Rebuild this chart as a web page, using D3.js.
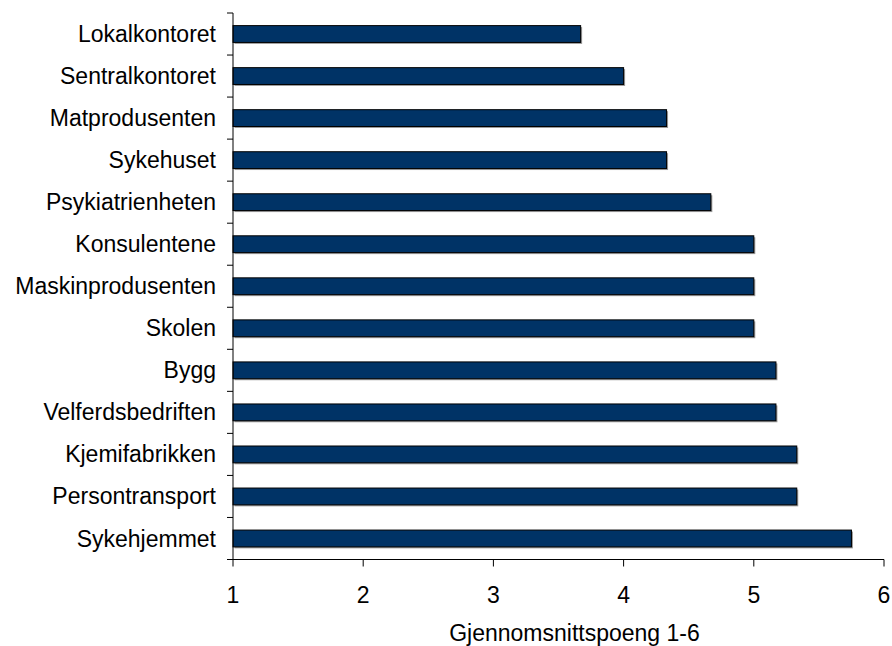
<!DOCTYPE html>
<html>
<head>
<meta charset="utf-8">
<script src="https://cdn.jsdelivr.net/npm/d3@7"></script>
<style>
  html, body { margin: 0; padding: 0; background: #fff; }
  svg { display: block; font-family: "Liberation Sans", Arial, sans-serif; }
</style>
</head>
<body>
<svg id="chart" width="892" height="646"></svg>
<script>
// Average score (1-6) per workplace
const categories = [
  "Lokalkontoret", "Sentralkontoret", "Matprodusenten", "Sykehuset",
  "Psykiatrienheten", "Konsulentene", "Maskinprodusenten", "Skolen",
  "Bygg", "Velferdsbedriften", "Kjemifabrikken", "Persontransport", "Sykehjemmet"
];
const scores = [3.67, 4.0, 4.33, 4.33, 4.67, 5.0, 5.0, 5.0, 5.17, 5.17, 5.33, 5.33, 5.75];
const xTicks = [1, 2, 3, 4, 5, 6];
const xTitle = "Gjennomsnittspoeng 1-6";

const svg = d3.select("#chart");
const plotLeft = 233, plotRight = 884, plotTop = 13, plotBottom = 559.5;
const fontSize = 23;

const x = d3.scaleLinear().domain([1, 6]).range([plotLeft, plotRight]);
const y = d3.scaleBand().domain(categories).range([plotTop, plotBottom]).paddingInner(0.6).paddingOuter(0.3);
const band = (plotBottom - plotTop) / categories.length;

// bars with a faint drop shadow
const bars = svg.append("g");
bars.selectAll("rect.shadow")
  .data(categories)
  .join("rect")
  .attr("class", "shadow")
  .attr("x", x(1) + 1.5)
  .attr("y", (d) => y(d) + 1.5)
  .attr("width", (d, i) => x(scores[i]) - x(1))
  .attr("height", y.bandwidth())
  .attr("fill", "#9a9a9a");
bars.selectAll("rect.bar")
  .data(categories)
  .join("rect")
  .attr("class", "bar")
  .attr("x", x(1))
  .attr("y", (d) => y(d))
  .attr("width", (d, i) => x(scores[i]) - x(1))
  .attr("height", y.bandwidth())
  .attr("fill", "#003366")
  .attr("stroke", "#000")
  .attr("stroke-width", 1);

// category axis: line, ticks between categories, labels
const gy = svg.append("g");
gy.append("line")
  .attr("x1", plotLeft).attr("x2", plotLeft)
  .attr("y1", plotTop).attr("y2", plotBottom)
  .attr("stroke", "#000").attr("stroke-width", 1);
gy.selectAll("line.tick")
  .data(d3.range(categories.length + 1))
  .join("line")
  .attr("class", "tick")
  .attr("x1", plotLeft - 6).attr("x2", plotLeft)
  .attr("y1", (i) => plotTop + i * band)
  .attr("y2", (i) => plotTop + i * band)
  .attr("stroke", "#000");
gy.selectAll("text")
  .data(categories)
  .join("text")
  .attr("x", 216)
  .attr("y", (d) => y(d) + y.bandwidth() / 2)
  .attr("dy", "0.35em")
  .attr("text-anchor", "end")
  .attr("font-size", fontSize)
  .attr("fill", "#000")
  .text((d) => d);

// value axis
const gx = svg.append("g").attr("transform", `translate(0,${plotBottom})`);
gx.append("line")
  .attr("x1", plotLeft - 6).attr("x2", plotRight)
  .attr("stroke", "#000");
gx.selectAll("line.tick")
  .data(xTicks)
  .join("line")
  .attr("class", "tick")
  .attr("x1", (d) => x(d)).attr("x2", (d) => x(d))
  .attr("y1", 0).attr("y2", 7)
  .attr("stroke", "#000");
gx.selectAll("text")
  .data(xTicks)
  .join("text")
  .attr("x", (d) => x(d))
  .attr("y", 43)
  .attr("text-anchor", "middle")
  .attr("font-size", fontSize)
  .attr("fill", "#000")
  .text((d) => d);

svg.append("text")
  .attr("x", 574.5)
  .attr("y", 640.5)
  .attr("text-anchor", "middle")
  .attr("font-size", fontSize)
  .attr("fill", "#000")
  .text(xTitle);
</script>
</body>
</html>
